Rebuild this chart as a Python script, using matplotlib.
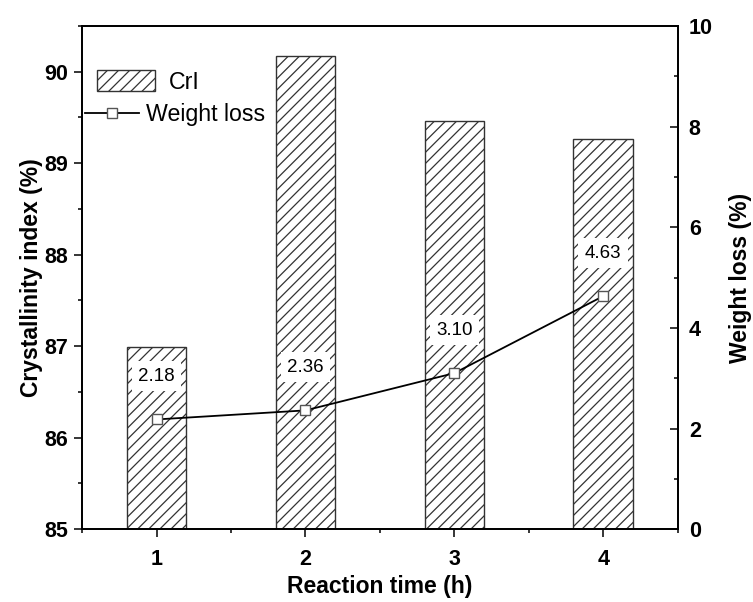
import matplotlib.pyplot as plt
from matplotlib.patches import Patch
from matplotlib.lines import Line2D
from matplotlib.ticker import MultipleLocator

plt.rcParams['font.family'] = ['Liberation Sans', 'DejaVu Sans']
plt.rcParams['hatch.linewidth'] = 0.9

# data
times = [1, 2, 3, 4]
cri = [86.99, 90.17, 89.46, 89.26]
weight_loss = [2.18, 2.36, 3.10, 4.63]
wl_labels = ['2.18', '2.36', '3.10', '4.63']

fig = plt.figure(figsize=(7.53, 6.02), dpi=100)
ax = fig.add_axes([0.109, 0.121, 0.791, 0.836])
ax2 = ax.twinx()

# CrI bars
ax.bar(times, [v - 85 for v in cri], bottom=85, width=0.4, color='white',
       edgecolor='#333333', linewidth=1.0, hatch='///')
ax.set_xlim(0.5, 4.5)
ax.set_ylim(85, 90.5)
ax.set_xticks(times)
ax.xaxis.set_minor_locator(MultipleLocator(0.5))
ax.yaxis.set_minor_locator(MultipleLocator(0.5))
ax.tick_params(axis='both', which='major', direction='out', length=6, width=1.1,
               labelsize=15.5, pad=4)
ax.tick_params(axis='both', which='minor', direction='out', length=3, width=1.1)
ax.tick_params(axis='y', which='both', right=False)
ax.tick_params(axis='x', which='major', pad=8)
for lab in ax.get_xticklabels() + ax.get_yticklabels():
    lab.set_fontweight('bold')
ax.set_xlabel('Reaction time (h)', fontsize=16.5, fontweight='bold', labelpad=4)
ax.set_ylabel('Crystallinity index (%)', fontsize=16.5, fontweight='bold', labelpad=1)

# weight loss line
ax2.plot(times, weight_loss, color='black', linewidth=1.3, marker='s', markersize=7.5,
         markerfacecolor='white', markeredgecolor='#555555', markeredgewidth=1.0)
for t, w, s in zip(times, weight_loss, wl_labels):
    ax2.annotate(s, (t, w), xytext=(0, 31), textcoords='offset points',
                 ha='center', va='center', fontsize=13.5,
                 bbox=dict(boxstyle='square,pad=0.35', fc='white', ec='none'))
ax2.set_ylim(0, 10)
ax2.yaxis.set_major_locator(MultipleLocator(2))
ax2.yaxis.set_minor_locator(MultipleLocator(1))
ax2.tick_params(axis='y', which='major', direction='in', length=6, width=1.1,
                labelsize=15.5, pad=8)
ax2.tick_params(axis='y', which='minor', direction='in', length=3, width=1.1)
for lab in ax2.get_yticklabels():
    lab.set_fontweight('bold')
ax2.set_ylabel('Weight loss (%)', fontsize=16.5, fontweight='bold', labelpad=12)

for a in (ax, ax2):
    for sp in a.spines.values():
        sp.set_linewidth(1.3)

# legends
bar_handle = Patch(facecolor='white', edgecolor='#333333', hatch='///', linewidth=1.0)
leg1 = ax2.legend([bar_handle], ['CrI'], loc='upper left', frameon=False, fontsize=16.7,
                  handlelength=2.5, handleheight=1.0, handletextpad=0.6,
                  bbox_to_anchor=(0.01, 0.93), borderaxespad=0)
ax2.add_artist(leg1)
line_handle = Line2D([], [], color='black', linewidth=1.3, marker='s', markersize=7.5,
                     markerfacecolor='white', markeredgecolor='#555555')
ax2.legend([line_handle], ['Weight loss'], loc='upper left', frameon=False, fontsize=16.7,
           handlelength=2.3, handletextpad=0.3,
           bbox_to_anchor=(-0.01, 0.865), borderaxespad=0)

fig.savefig('out.png', dpi=100)
